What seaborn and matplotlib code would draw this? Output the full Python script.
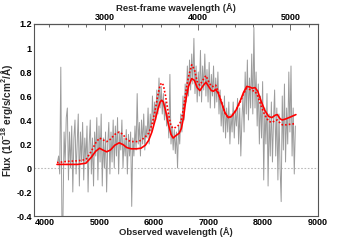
import numpy as np
import pandas as pd
import matplotlib
matplotlib.use('Agg')
import matplotlib.pyplot as plt
from matplotlib.ticker import MultipleLocator, FixedLocator
import seaborn as sns

# Observed spectrum, sampled every 20 A from 4230 A
spec_start = 4230
spec_step = 20
spec_flux = [
    0.05, 0.10, -0.05, 0.84, -0.42, -0.40, 0.30, 0.05, 0.42, 0.50,
    -0.10, 0.30, 0.00, 0.35, -0.20, 0.25, 0.40, -0.05, 0.20, 0.45,
    -0.15, 0.30, 0.05, 0.38, -0.10, 0.25, 0.05, 0.35, -0.20, 0.20,
    0.40, -0.05, 0.25, -0.15, 0.30, 0.10, 0.42, -0.10, 0.35, 0.05,
    0.45, -0.15, 0.25, 0.00, 0.30, -0.20, 0.20, 0.38, -0.05, 0.30,
    0.05, 0.40, 0.00, 0.35, 0.10, 0.42, -0.05, 0.30, 0.15, 0.40,
    0.00, 0.25, 0.10, 0.32, -0.05, 0.28, 0.10, 0.30, -0.32, 0.25,
    0.10, 0.35, 0.15, 0.62, 0.20, 0.38, 0.10, 0.40, 0.20, 0.45,
    0.15, 0.35, 0.25, 0.50, 0.20, 0.45, 0.30, 0.60, 0.35, 0.55,
    0.40, 0.65, 0.45, 0.75, 0.50, 0.68, 0.45, 0.62, 0.40, 0.55,
    0.35, 0.45, 0.25, 0.78, 0.20, 0.35, 0.15, 0.32, 0.12, 0.30,
    0.00, 0.35, 0.20, 0.45, 0.30, 0.60, 0.40, 0.70, 0.55, 0.85,
    0.60, 0.90, 0.65, 0.95, 0.70, 1.08, 0.62, 0.85, 0.55, 0.80,
    0.60, 0.98, 0.55, 0.85, 0.65, 0.95, 0.60, 0.82, 0.55, 0.88,
    0.50, 0.78, 0.60, 0.85, 0.50, 0.75, 0.55, 0.80, 0.45, 0.65,
    0.35, 0.55, 0.30, 0.60, 0.25, 0.50, 0.30, 0.55, 0.20, 0.45,
    0.30, 0.55, 0.25, 0.48, 0.35, 0.58, 0.20, 0.50, 0.10, 0.40,
    0.60, 0.30, 0.80, 0.45, 0.90, 0.40, 0.75, 0.50, 0.95, 0.45,
    1.17, 0.50, 0.80, 0.35, 0.70, 0.20, 0.60, 0.25, 0.72, -0.10,
    0.50, 0.20, 0.62, -0.15, 0.45, 0.10, 0.55, 0.05, 0.40, 0.65,
    0.10, 0.50, -0.10, 0.45, 0.00, -0.28, 0.60, 0.15, 0.70, 0.05,
    0.50, 0.20, 0.80, 0.30, 0.85, 0.10, 0.50, -0.05, 0.35,
]
spec_wave = spec_start + spec_step * np.arange(len(spec_flux))

# Model fits (solid and dotted red)
model_wave = [4220, 4400, 4600, 4750, 4850, 4930, 5000, 5060, 5130, 5200,
              5280, 5360, 5430, 5500, 5580, 5680, 5760, 5840, 5900, 5960,
              6020, 6070, 6110, 6140, 6170, 6210, 6260, 6310, 6350, 6400,
              6460, 6500, 6540, 6580, 6630, 6690, 6740, 6790, 6840, 6890,
              6950, 7000, 7050, 7090, 7130, 7180, 7240, 7300, 7360, 7420,
              7500, 7580, 7640, 7700, 7750, 7800, 7850, 7900, 7960, 8030,
              8100, 8160, 8220, 8260, 8310, 8350, 8420, 8500, 8600]
model_solid = [0.03, 0.03, 0.03, 0.04, 0.09, 0.14, 0.165, 0.15, 0.135, 0.15,
               0.19, 0.21, 0.195, 0.17, 0.16, 0.16, 0.165, 0.19, 0.23, 0.30,
               0.40, 0.49, 0.55, 0.565, 0.55, 0.48, 0.37, 0.28, 0.25, 0.27,
               0.29, 0.33, 0.42, 0.56, 0.68, 0.745, 0.73, 0.67, 0.645, 0.68,
               0.715, 0.68, 0.645, 0.64, 0.655, 0.62, 0.54, 0.46, 0.42, 0.43,
               0.48, 0.56, 0.63, 0.68, 0.675, 0.665, 0.67, 0.64, 0.56, 0.48,
               0.43, 0.42, 0.44, 0.445, 0.41, 0.40, 0.41, 0.425, 0.445]
model_dotted = [0.045, 0.055, 0.06, 0.07, 0.14, 0.21, 0.25, 0.235, 0.22, 0.24,
                0.28, 0.30, 0.28, 0.235, 0.22, 0.22, 0.23, 0.26, 0.29, 0.36,
                0.48, 0.61, 0.69, 0.71, 0.69, 0.60, 0.46, 0.35, 0.33, 0.34,
                0.36, 0.40, 0.50, 0.63, 0.76, 0.86, 0.82, 0.72, 0.69, 0.73,
                0.77, 0.72, 0.68, 0.68, 0.69, 0.63, 0.54, 0.46, 0.42, 0.43,
                0.48, 0.55, 0.62, 0.665, 0.655, 0.645, 0.64, 0.60, 0.52, 0.44,
                0.39, 0.38, 0.395, 0.40, 0.375, 0.36, 0.36, 0.365, 0.37]

redshift = 0.70
rest_ticks = [3000, 4000, 5000]

spec = pd.DataFrame({'wave': spec_wave, 'flux': spec_flux})
model = pd.DataFrame({'wave': model_wave, 'solid': model_solid,
                      'dotted': model_dotted})

sns.set_style('white')
plt.rcParams['font.family'] = ['Liberation Sans', 'DejaVu Sans']
plt.rcParams['mathtext.default'] = 'regular'

fig = plt.figure(figsize=(3.55, 2.4), dpi=100)
ax = fig.add_axes([0.096, 0.1, 0.799, 0.8])

ax.axhline(0, color='#bbbbbb', lw=0.8, ls=(0, (1.5, 1.5)), zorder=1)
sns.lineplot(data=spec, x='wave', y='flux', ax=ax, color='#9c9c9c',
             lw=0.7, sort=False, estimator=None, zorder=2)
sns.lineplot(data=model, x='wave', y='dotted', ax=ax, color='#ff0000',
             lw=1.2, ls=(0, (1, 1.2)), estimator=None, zorder=3)
sns.lineplot(data=model, x='wave', y='solid', ax=ax, color='#ff0000',
             lw=1.2, estimator=None, zorder=4)

ax.set_xlim(3800, 9000)
ax.set_ylim(-0.4, 1.2)
ax.xaxis.set_major_locator(MultipleLocator(1000))
ax.xaxis.set_minor_locator(MultipleLocator(200))
ax.yaxis.set_minor_locator(MultipleLocator(0.05))
ax.set_yticks(np.arange(-0.4, 1.21, 0.2))
ax.set_yticklabels(['-0.4', '-0.2', '0', '0.2', '0.4', '0.6', '0.8', '1', '1.2'])

for sp in ax.spines.values():
    sp.set_color('#555555')
    sp.set_linewidth(0.8)

ax.tick_params(which='both', direction='in', top=False, right=False,
               color='#555555', width=0.6, labelsize=6.5, pad=1.5,
               labelcolor='black')
ax.tick_params(which='major', length=4)
ax.tick_params(which='minor', length=2)
for lab in ax.get_xticklabels() + ax.get_yticklabels():
    lab.set_fontweight('bold')

ax.set_xlabel('Observed wavelength (Å)', fontsize=6.8, fontweight='bold',
              labelpad=0)
ax.set_ylabel('Flux (10$^{-18}$ erg/s/cm$^2$/Å)', fontsize=7.2,
              fontweight='bold', labelpad=0)
ax.yaxis.set_label_coords(-0.066, 0.5)

top = ax.secondary_xaxis('top', functions=(lambda x: x / (1 + redshift),
                                           lambda x: x * (1 + redshift)))
top.xaxis.set_major_locator(FixedLocator(rest_ticks))
top.xaxis.set_minor_locator(FixedLocator(np.arange(2400, 5300, 200)))
top.tick_params(which='both', direction='in', color='#555555', width=0.6,
                labelsize=6.5, pad=1.5, labelcolor='black')
top.tick_params(which='major', length=4)
top.tick_params(which='minor', length=2)
top.set_xticklabels([str(t) for t in rest_ticks], fontweight='bold')
top.set_xlabel('Rest-frame wavelength (Å)', fontsize=6.8, fontweight='bold',
               labelpad=1.5)

fig.savefig('out.png', dpi=100)
